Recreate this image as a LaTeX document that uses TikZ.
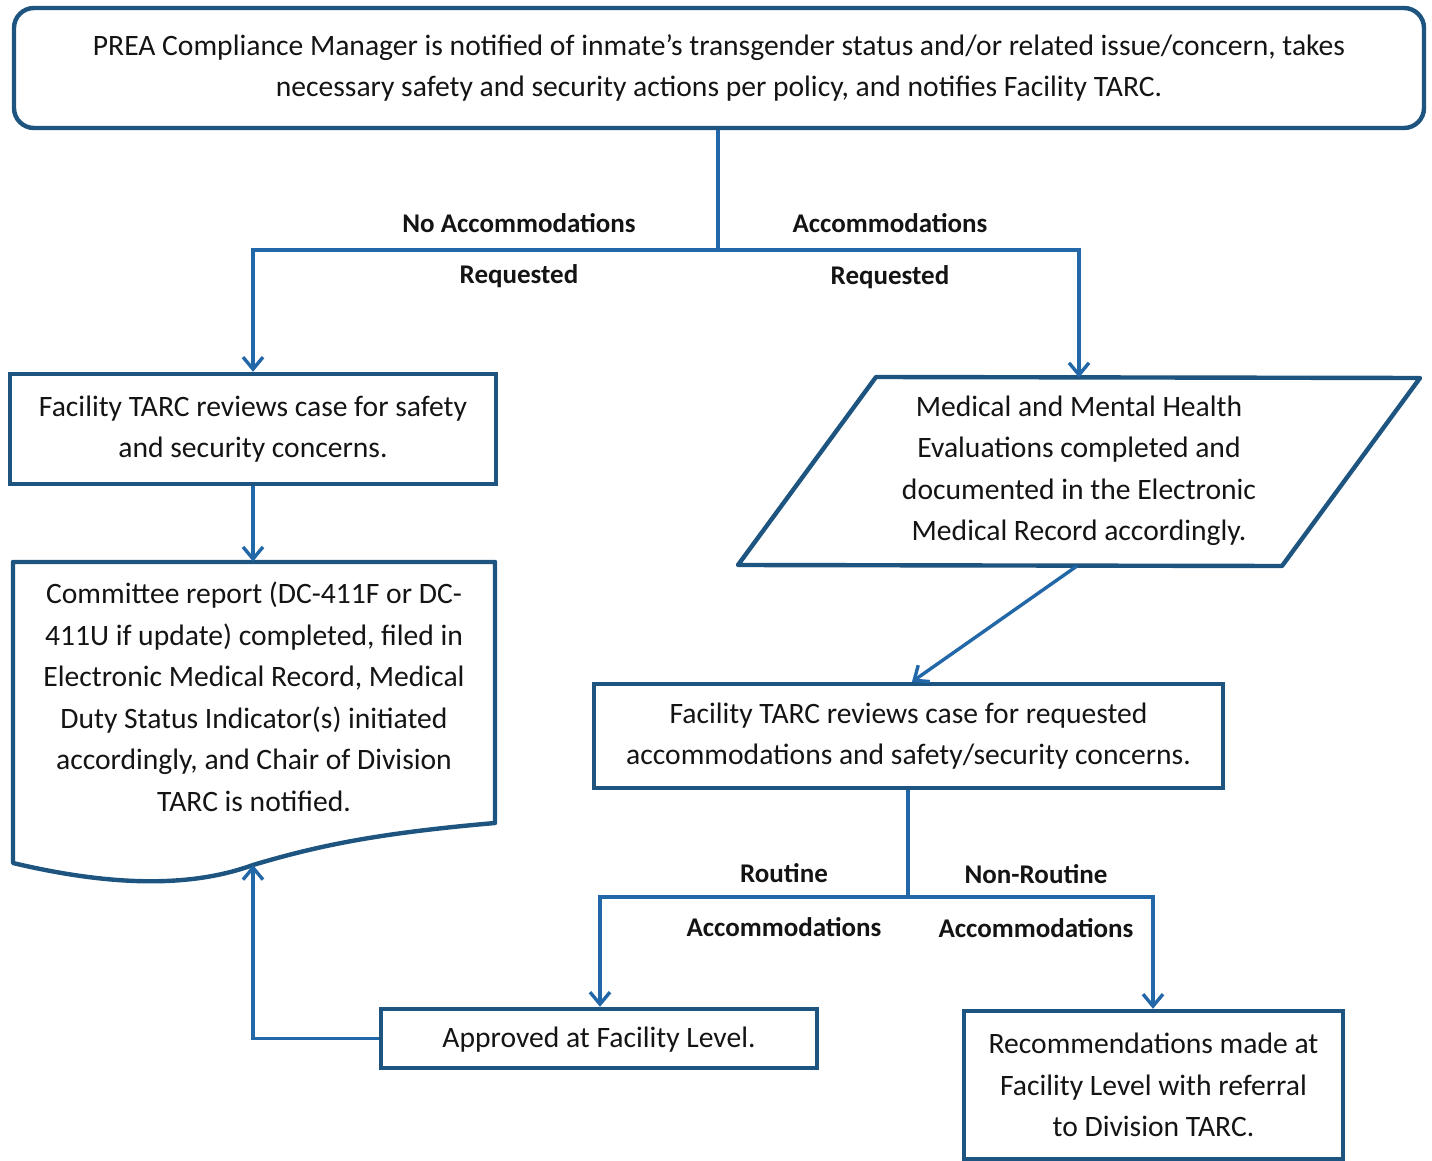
\documentclass[tikz,border=0pt]{standalone}
\usepackage{fontspec}
\setmainfont{Carlito}
\usetikzlibrary{arrows.meta,calc}
\definecolor{boxc}{HTML}{1D5580}
\definecolor{arrc}{HTML}{2268A8}
\begin{document}
\begin{tikzpicture}[x=0.5pt,y=-0.5pt,
  every node/.style={font=\fontsize{14.8}{20.75}\selectfont, text=black!92},
  box/.style={draw=boxc, line width=2.2pt, rectangle, inner sep=0pt, align=center},
  shp/.style={draw=boxc, line width=2.2pt, line join=round},
  conn/.style={draw=arrc, line width=1.7pt},
  arr/.style={conn, -{Straight Barb[length=6pt,width=10pt,line width=1.7pt]}},
  lbl/.style={font=\fontsize{13.5}{16}\selectfont\bfseries}
]
\useasboundingbox (0,0) rectangle (1432,1161);
% top box
\node[box, rounded corners=10pt, minimum width=705pt, minimum height=60pt] (top) at (719,68)
  {PREA Compliance Manager is notified of inmate’s transgender status and/or related issue/concern, takes\\
   necessary safety and security actions per policy, and notifies Facility TARC.};
% box A
\node[box, minimum width=243pt, minimum height=55pt] (fa) at (253,429)
  {Facility TARC reviews case for safety\\ and security concerns.};
% document
\node[align=center, minimum width=241pt, minimum height=151.5pt, inner sep=0pt] (doc) at (254,713.5) {};
\node[align=center] (doct) at (254,697)
  {Committee report (DC-411F or DC-\\ 411U if update) completed, filed in\\ Electronic Medical Record, Medical\\ Duty Status Indicator(s) initiated\\ accordingly, and Chair of Division\\ TARC is notified.};
\coordinate (docb) at (253,865);
\draw[shp] (13,562) -- (495,562) -- (495,823)
  .. controls (380,833) and (320,845) .. (docb)
  .. controls (190,888) and (110,886) .. (13,863) -- cycle;
% parallelogram
\node[align=center, inner sep=0pt] (med) at (1079,471)
  {Medical and Mental Health\\ Evaluations completed and\\ documented in the Electronic\\ Medical Record accordingly.};
\coordinate (medt) at (1079,377.5);
\coordinate (medb) at (1077,566);
\draw[shp] (876,377) -- (1420,378) -- (1282,566) -- (738,565) -- cycle;
% box C
\node[box, minimum width=314.5pt, minimum height=52pt] (fc) at (908.5,736)
  {Facility TARC reviews case for requested\\ accommodations and safety/security concerns.};
% box D
\node[box, minimum width=218pt, minimum height=29.5pt, text depth=3pt, text height=12pt] (ap) at (599,1038.5)
  {Approved at Facility Level.};
% box E
\node[box, minimum width=189.5pt, minimum height=74pt] (rec) at (1153.5,1085)
  {Recommendations made at\\ Facility Level with referral\\ to Division TARC.};
% connectors top
\coordinate (j1) at (718,250);
\draw[conn] (top.south -| j1) -- (j1);
\draw[arr] (j1) -| (fa.north -| 253,0);
\draw[arr] (j1) -| (medt);
\node[lbl] (l1) at (519,223) {No Accommodations};
\node[lbl] (l2) at (519,276) {Requested};
\node[lbl] (l3) at (890,223) {Accommodations};
\node[lbl] (l4) at (890,277) {Requested};
% A -> doc
\draw[arr] (fa.south -| 253,0) -- (doc.north -| 253,0);
% med -> C
\draw[arr] (medb) -- (fc.north -| 912,0);
% C split
\coordinate (j2) at (908,897);
\draw[conn] (fc.south -| j2) -- (j2);
\draw[arr] (j2) -| (ap.north -| 600,0);
\draw[arr] (j2) -| (rec.north -| 1153,0);
\node[lbl] (l5) at (784,873) {Routine};
\node[lbl] (l6) at (784,927) {Accommodations};
\node[lbl] (l7) at (1036,874) {Non-Routine};
\node[lbl] (l8) at (1036,928) {Accommodations};
% D -> doc
\draw[arr] (ap.west) -| (docb);
\end{tikzpicture}
\end{document}
